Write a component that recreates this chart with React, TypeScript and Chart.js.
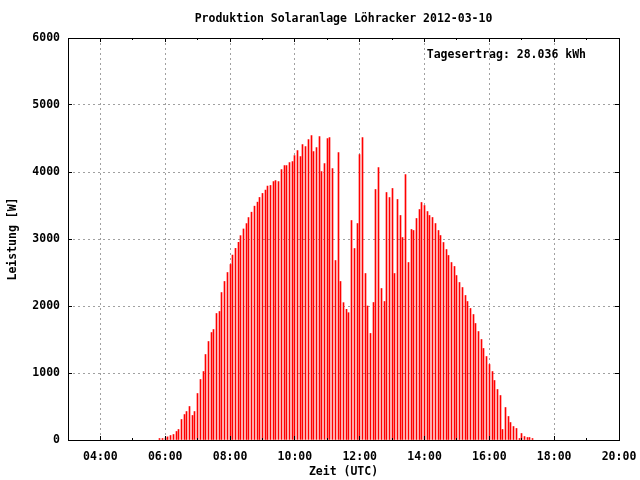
import React, { useEffect, useRef } from 'react';
import { Chart, registerables } from 'chart.js';

Chart.register(...registerables);

const chartTitle = 'Produktion Solaranlage Löhracker 2012-03-10';
const yieldLabel = 'Tagesertrag: 28.036 kWh';
const xAxisTitle = 'Zeit (UTC)';
const yAxisTitle = 'Leistung [W]';

const xTickLabels = ['04:00', '06:00', '08:00', '10:00', '12:00', '14:00', '16:00', '18:00', '20:00'];

const times = [
  '05:50', '05:55',
  '06:00', '06:05', '06:10', '06:15', '06:20', '06:25', '06:30', '06:35', '06:40', '06:45', '06:50', '06:55',
  '07:00', '07:05', '07:10', '07:15', '07:20', '07:25', '07:30', '07:35', '07:40', '07:45', '07:50', '07:55',
  '08:00', '08:05', '08:10', '08:15', '08:20', '08:25', '08:30', '08:35', '08:40', '08:45', '08:50', '08:55',
  '09:00', '09:05', '09:10', '09:15', '09:20', '09:25', '09:30', '09:35', '09:40', '09:45', '09:50', '09:55',
  '10:00', '10:05', '10:10', '10:15', '10:20', '10:25', '10:30', '10:35', '10:40', '10:45', '10:50', '10:55',
  '11:00', '11:05', '11:10', '11:15', '11:20', '11:25', '11:30', '11:35', '11:40', '11:45', '11:50', '11:55',
  '12:00', '12:05', '12:10', '12:15', '12:20', '12:25', '12:30', '12:35', '12:40', '12:45', '12:50', '12:55',
  '13:00', '13:05', '13:10', '13:15', '13:20', '13:25', '13:30', '13:35', '13:40', '13:45', '13:50', '13:55',
  '14:00', '14:05', '14:10', '14:15', '14:20', '14:25', '14:30', '14:35', '14:40', '14:45', '14:50', '14:55',
  '15:00', '15:05', '15:10', '15:15', '15:20', '15:25', '15:30', '15:35', '15:40', '15:45', '15:50', '15:55',
  '16:00', '16:05', '16:10', '16:15', '16:20', '16:25', '16:30', '16:35', '16:40', '16:45', '16:50', '16:55',
  '17:00', '17:05', '17:10', '17:15', '17:20',
];

const powerW = [
  22, 22,
  30, 47, 67, 82, 127, 157, 306, 380, 425, 500, 366, 425,
  694, 903, 1022, 1276, 1470, 1604, 1649, 1888, 1918, 2201, 2366, 2500,
  2620, 2760, 2860, 2950, 3050, 3150, 3230, 3320, 3400, 3490, 3550, 3620,
  3680, 3730, 3790, 3799, 3858, 3873, 3858, 4037, 4097, 4097, 4142, 4157,
  4246, 4321, 4231, 4410, 4380, 4485, 4545, 4306, 4366, 4530, 4007, 4127,
  4500, 4515, 4052, 2679, 4291, 2366, 2050, 1950, 1900, 3276, 2858, 3231,
  4261, 4515, 2485, 2000, 1590, 2052, 3739, 4067, 2261, 2067, 3694, 3619,
  3754, 2485, 3590, 3351, 3022, 3963, 2649, 3142, 3127, 3306, 3440, 3545,
  3500, 3410, 3351, 3321, 3231, 3127, 3052, 2948, 2843, 2754, 2649, 2590,
  2455, 2351, 2276, 2157, 2067, 1963, 1873, 1739, 1619, 1500, 1366, 1246,
  1127, 1022, 888, 754, 664, 157, 485, 351, 261, 201, 172, 22,
  97, 52, 37, 37, 22,
];

const FONT_FAMILY = '"DejaVu Sans Mono", "Liberation Mono", monospace';
const GRID_GRAY = '#a0a0a0';

const toHours = (t: string) => {
  const [h, m] = t.split(':').map(Number);
  return h + m / 60;
};

const alignPx = (p: number) => Math.round(p - 0.5) + 0.5;

// Snap the library-computed bar centres to the pixel grid so 1px impulses stay crisp.
const snapBarsPlugin = {
  id: 'snapBars',
  beforeDatasetsDraw(chart: any) {
    chart.getSortedVisibleDatasetMetas().forEach((meta: any) => {
      meta.data.forEach((el: any) => {
        el.x = alignPx(el.x);
      });
    });
  },
};

const overlayPlugin = {
  id: 'gnuplotOverlay',
  afterDatasetsDraw(chart: any) {
    const { ctx, chartArea: a, scales } = chart;
    const xs = scales.x;
    const ys = scales.y;
    ctx.save();
    ctx.setLineDash([]);
    ctx.strokeStyle = '#000';
    ctx.lineWidth = 1;
    ctx.beginPath();
    for (let h = 3; h <= 20; h++) {
      const px = alignPx(xs.getPixelForValue(h));
      const len = h % 2 === 0 ? 4 : 2;
      ctx.moveTo(px, a.bottom);
      ctx.lineTo(px, a.bottom - len);
      ctx.moveTo(px, a.top);
      ctx.lineTo(px, a.top + len);
    }
    for (let v = 0; v <= 6000; v += 1000) {
      const py = alignPx(ys.getPixelForValue(v));
      ctx.moveTo(a.left, py);
      ctx.lineTo(a.left + 4, py);
      ctx.moveTo(a.right, py);
      ctx.lineTo(a.right - 4, py);
    }
    ctx.stroke();
    ctx.strokeRect(a.left + 0.5, a.top + 0.5, a.right - a.left, a.bottom - a.top);

    ctx.fillStyle = '#000';
    ctx.font = 'bold 11.5px ' + FONT_FAMILY;
    ctx.textBaseline = 'middle';
    ctx.textAlign = 'center';
    const cx = (a.left + a.right) / 2;
    ctx.fillText(chartTitle, cx, 19);
    ctx.fillText(xAxisTitle, cx, 472);
    ctx.textAlign = 'right';
    ctx.fillText(yieldLabel, 586, 55);
    ctx.translate(13.5, (a.top + a.bottom) / 2);
    ctx.rotate(-Math.PI / 2);
    ctx.textAlign = 'center';
    ctx.fillText(yAxisTitle, 0, 0);
    ctx.restore();
  },
};

export default function App() {
  const canvasRef = useRef<HTMLCanvasElement | null>(null);

  useEffect(() => {
    const canvas = canvasRef.current;
    if (!canvas) return;
    const tickFont = { family: FONT_FAMILY, size: 11.5, weight: 'bold' as const };
    const chart = new Chart(canvas, {
      type: 'bar',
      data: {
        datasets: [
          {
            data: times.map((t, i) => ({ x: toHours(t), y: powerW[i] })),
            backgroundColor: '#ff0000',
            borderWidth: 0,
            barThickness: 1,
            grouped: false,
          } as any,
        ],
      },
      options: {
        responsive: false,
        devicePixelRatio: 1,
        animation: false,
        events: [],
        layout: { padding: { left: 0, top: 38, right: 21, bottom: 0 } },
        plugins: {
          legend: { display: false },
          title: { display: false },
          tooltip: { enabled: false },
        },
        scales: {
          x: {
            type: 'linear',
            min: 3,
            max: 20,
            offset: false,
            ticks: {
              stepSize: 1,
              autoSkip: false,
              maxRotation: 0,
              minRotation: 0,
              padding: 10,
              color: '#000',
              font: tickFont,
              callback: (v: any) => {
                const h = Number(v);
                if (h % 2 !== 0) return '';
                return xTickLabels.find((l) => toHours(l) === h) ?? '';
              },
            },
            grid: {
              drawTicks: false,
              offset: false,
              lineWidth: 1,
              color: (c: any) => {
                const v = c.tick ? c.tick.value : 0;
                return v % 2 === 0 && v > 3 && v < 20 ? GRID_GRAY : 'rgba(0,0,0,0)';
              },
            },
            border: { display: false, dash: [2, 3] },
            afterFit: (s: any) => {
              s.height = 40;
              s.paddingLeft = 0;
              s.paddingRight = 0;
            },
          },
          y: {
            type: 'linear',
            min: 0,
            max: 6000,
            ticks: {
              stepSize: 1000,
              padding: 8,
              color: '#000',
              font: tickFont,
              callback: (v: any) => String(v),
            },
            grid: {
              drawTicks: false,
              lineWidth: 1,
              color: (c: any) => {
                const v = c.tick ? c.tick.value : 0;
                return v > 0 && v < 6000 ? GRID_GRAY : 'rgba(0,0,0,0)';
              },
            },
            border: { display: false, dash: [2, 3] },
            afterFit: (s: any) => {
              s.width = 68;
              s.paddingTop = 0;
              s.paddingBottom = 0;
            },
          },
        },
      } as any,
      plugins: [snapBarsPlugin, overlayPlugin],
    });
    return () => chart.destroy();
  }, []);

  return (
    <div style={{ position: 'fixed', left: 0, top: 0, width: 640, height: 480, background: '#fff' }}>
      <canvas ref={canvasRef} width={640} height={480} />
    </div>
  );
}
